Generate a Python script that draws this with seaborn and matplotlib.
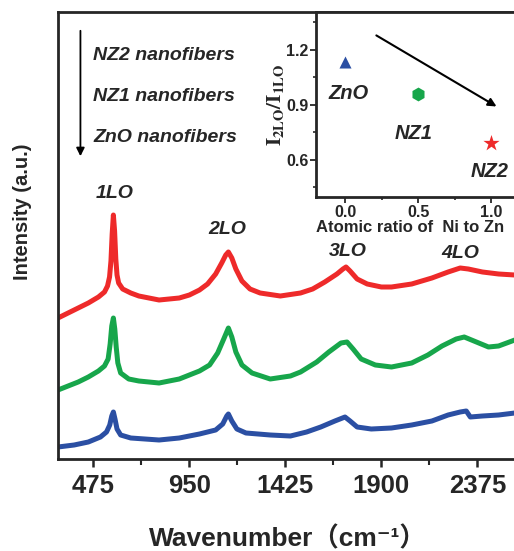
import numpy as np
import pandas as pd
import matplotlib
matplotlib.use("Agg")
import matplotlib.pyplot as plt
import seaborn as sns

# ---------------------------------------------
# Raman spectra (wavenumber cm-1, intensity a.u.)
wn_nz2 = [300, 350, 400, 450, 500, 530, 545, 555, 562, 568, 574, 580, 586, 592, 600, 620, 660,
          700, 800, 900, 950, 1000, 1040, 1080, 1110, 1130, 1143, 1160, 1180, 1210, 1250, 1300,
          1400, 1500, 1560, 1620, 1680, 1710, 1725, 1745, 1780, 1830, 1900, 1950, 2050, 2150,
          2230, 2290, 2330, 2400, 2480, 2560]
int_nz2 = [141, 146, 151, 156, 162, 167, 173, 182, 198, 225, 244, 228, 200, 184, 176, 170, 166,
           163, 159, 161, 164, 169, 175, 185, 196, 204, 207, 201, 190, 178, 170, 166,
           163, 166, 170, 177, 185, 190, 192, 188, 180, 175, 172, 172, 175, 181,
           187, 191, 190, 187, 185, 184]

wn_nz1 = [300, 350, 400, 450, 500, 530, 548, 558, 566, 574, 581, 588, 596, 610, 650, 700, 800,
          900, 950, 1000, 1050, 1090, 1120, 1143, 1160, 1180, 1210, 1260, 1350, 1450, 1500, 1580,
          1640, 1700, 1730, 1760, 1800, 1870, 1950, 2050, 2130, 2200, 2270, 2310, 2370, 2430,
          2480, 2560]
int_nz1 = [69, 73, 77, 82, 88, 93, 100, 115, 133, 141, 130, 112, 96, 86, 80, 78, 76,
           80, 84, 88, 94, 106, 120, 131, 122, 107, 94, 86, 80, 83, 87, 97,
           107, 116, 117, 110, 100, 94, 92, 96, 104, 113, 120, 122, 117, 112,
           113, 119]

wn_zno = [300, 380, 450, 510, 540, 556, 566, 574, 582, 592, 610, 660, 800, 900, 1000, 1080,
          1115, 1135, 1143, 1160, 1185, 1230, 1350, 1450, 1530, 1600, 1670, 1720, 1745, 1780,
          1850, 1950, 2050, 2150, 2230, 2290, 2320, 2340, 2400, 2480, 2560]
int_zno = [12, 14, 17, 22, 27, 34, 43, 47, 40, 30, 24, 21, 19, 21, 25, 29,
           35, 43, 45, 38, 30, 26, 24, 23, 27, 32, 38, 42, 38, 32,
           30, 31, 34, 38, 44, 47, 48, 42, 43, 44, 46]

# peak labels
peak_names = ["1LO", "2LO", "3LO", "4LO"]
peak_wn = [579, 1138, 1732, 2291]
peak_int = [266, 230, 208, 206]

# inset: I2LO/I1LO vs atomic ratio Ni to Zn
ratio = [0.0, 0.5, 1.0]
i_ratio = [1.135, 0.96, 0.693]
sample = ["ZnO", "NZ1", "NZ2"]

xticks_main = [475, 950, 1425, 1900, 2375]
legend_names = ["NZ2 nanofibers", "NZ1 nanofibers", "ZnO nanofibers"]

red, green, blue = "#ee2a2a", "#17a64b", "#2b4fa3"

# ---------------------------------------------
sns.set_style("ticks")
plt.rcParams['font.family'] = ['Liberation Sans', 'DejaVu Sans']
plt.rcParams['mathtext.fontset'] = 'stix'

W, H = 514, 551
fig = plt.figure(figsize=(W / 100, H / 100), dpi=100)
ax = fig.add_axes([58/W, 92/H, 516/W, 447/H])

for wn, inten, c in [(wn_nz2, int_nz2, red), (wn_nz1, int_nz1, green), (wn_zno, int_zno, blue)]:
    sns.lineplot(x=wn, y=inten, color=c, lw=3.6, ax=ax, sort=False)

ax.set_xlim(300, 2853)
ax.set_ylim(0, 447)
ax.set_yticks([])
ax.set_xticks(xticks_main)
ax.set_xticks([712.5, 1187.5, 1662.5, 2137.5, 2612.5], minor=True)
ax.tick_params(axis='x', which='major', direction='out', length=6, width=1.8, labelsize=18.5, pad=5)
ax.tick_params(axis='x', which='minor', direction='out', length=4, width=1.5)
for lab in ax.get_xticklabels():
    lab.set_fontweight('bold')
for sp in ax.spines.values():
    sp.set_linewidth(2)

# axis titles placed in figure pixels (the axes run past the right edge)
fig.text(288/W, 1 - 546/H, "Wavenumber\uff08cm\u207b\u00b9\uff09", fontsize=19, fontweight='bold',
         ha='center', va='baseline', family=['Liberation Sans', 'Noto Sans CJK SC', 'DejaVu Sans'])
fig.text(23/W, 1 - 212/H, "Intensity (a.u.)", fontsize=14.5, fontweight='bold',
         rotation=90, ha='center', va='center')

# down arrow + sample names
ax.annotate("", xy=(411, 300), xytext=(411, 431),
            arrowprops=dict(arrowstyle='-|>', color='black', lw=1.3, mutation_scale=12))
for i, name in enumerate(legend_names):
    ax.text(475, 404 - i * 41.5, name, fontsize=14, fontweight='bold', style='italic',
            va='center', ha='left')

for name, w, h in zip(peak_names, peak_wn, peak_int):
    ax.text(w, h, name, fontsize=14, fontweight='bold', style='italic', ha='center', va='center')

# ---------------------------------------------
# inset
ins = fig.add_axes([316/W, 354/H, 233/W, 185/H])
sns.scatterplot(x=ratio[0:1], y=i_ratio[0:1], marker='^', s=75, color=blue, ax=ins, linewidth=0)
sns.scatterplot(x=ratio[1:2], y=i_ratio[1:2], marker='h', s=100, color=green, ax=ins, linewidth=0)
sns.scatterplot(x=ratio[2:3], y=i_ratio[2:3], marker='*', s=150, color=red, ax=ins, linewidth=0)
ins.set_xlim(-0.2, 1.396)
ins.set_ylim(0.398, 1.407)
ins.set_xticks([0.0, 0.5, 1.0])
ins.set_xticks([0.25, 0.75, 1.25], minor=True)
ins.set_yticks([0.6, 0.9, 1.2])
ins.set_yticks([0.45, 0.75, 1.05, 1.35], minor=True)
ins.tick_params(which='major', direction='out', length=4, width=1.3, labelsize=11.5, pad=1.5)
ins.tick_params(which='minor', direction='out', length=2.5, width=1.2)
for lab in ins.get_xticklabels() + ins.get_yticklabels():
    lab.set_fontweight('bold')
for sp in ins.spines.values():
    sp.set_linewidth(2)

ins.set_xlabel("Atomic ratio of  Ni to Zn", fontsize=12, fontweight='bold', loc='left', labelpad=0.5)
ins.set_ylabel(r"$\mathbf{I_{2LO}/I_{1LO}}$", fontsize=15, labelpad=0)

label_pos = [(0.02, 0.965), (0.47, 0.747), (0.99, 0.535)]
for name, (lx, ly) in zip(sample, label_pos):
    ins.text(lx, ly, name, fontsize=14.5, fontweight='bold', style='italic', ha='center', va='center')

ins.annotate("", xy=(1.053, 0.884), xytext=(0.197, 1.287),
             arrowprops=dict(arrowstyle='-|>', color='black', lw=1.5, mutation_scale=12))

fig.savefig("out.png", dpi=100)
